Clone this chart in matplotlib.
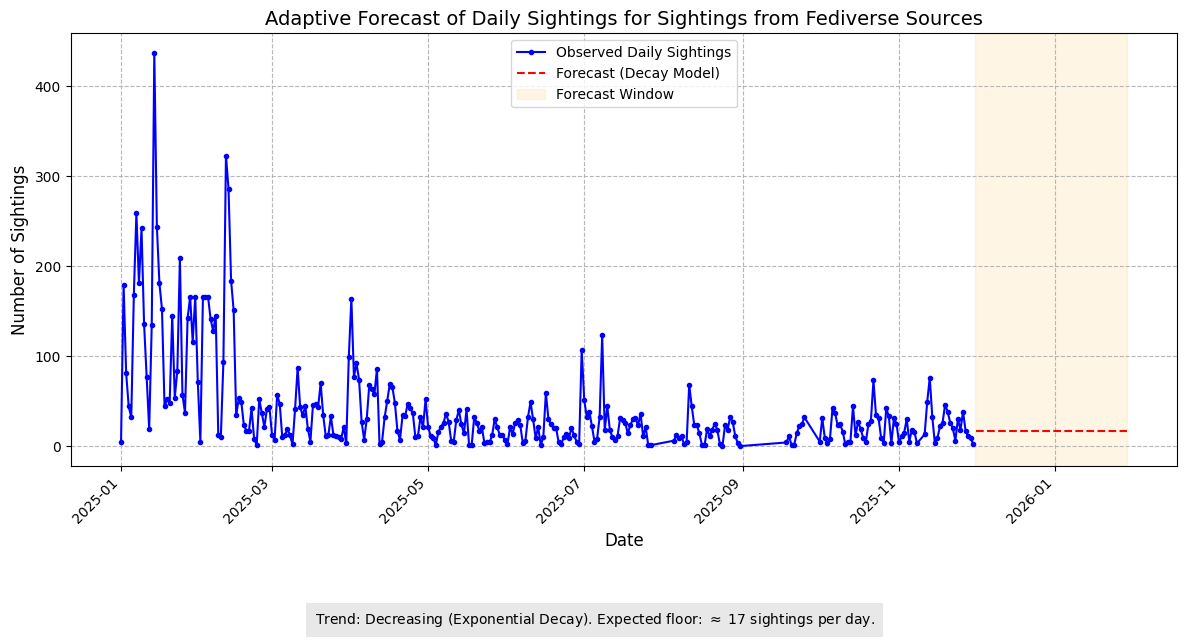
import matplotlib
matplotlib.use("Agg")
import matplotlib.pyplot as plt
import matplotlib.dates as mdates
import numpy as np
import pandas as pd

# Observed daily sightings, grouped in contiguous daily runs (start date, values)
seg1_start = "2025-01-01"
seg1_values = [4, 179, 81, 44, 32, 168, 259, 181, 242, 136, 77, 19, 135, 437, 244, 181, 152, 44, 52, 48,
               145, 54, 84, 209, 57, 37, 142, 166, 116, 166, 71, 5, 166, 166, 166, 141, 128, 145, 12, 10,
               94, 323, 286, 184, 151, 34, 53,
               49, 23, 17, 17, 42, 8, 1, 52, 37, 21, 41, 43, 12, 7, 57, 47, 10, 12, 19, 12,
               2, 41, 87, 43, 34, 45, 19, 5, 46, 47, 43, 70, 34, 11, 12, 33, 12, 11, 10, 8,
               21, 3, 99, 164, 77, 92, 74,
               27, 7, 30, 68, 63, 58, 86, 2, 5, 32, 50, 69, 66, 48, 17, 7, 34, 33, 47, 42,
               37, 10, 11, 32, 21, 52, 21, 11, 9, 1, 16, 21, 26, 36, 27, 6, 5, 29, 40, 24,
               14, 41, 1, 1, 32, 26,
               17, 21, 3, 4, 4, 12, 30, 21, 12, 12, 7, 2, 21, 13, 26, 29, 23, 3, 6, 32,
               49, 30, 9, 21, 1, 10, 59, 30, 24, 20, 20, 4, 2, 10, 13, 9, 20, 12, 5, 2,
               107, 51, 32, 38, 22, 5, 8, 32, 123, 18, 44, 18, 10, 7, 11, 31, 29, 26, 14, 23,
               30, 31, 23, 36, 11, 21, 1, 1]
seg2_start = "2025-08-05"
seg2_values = [6, 12, 9, 11, 2, 4, 68, 44, 23, 23, 14, 1, 1, 19, 11, 18, 25, 18, 2, 0,
               23, 18, 32, 27, 11, 3, 0]
seg3_start = "2025-09-18"
seg3_values = [4, 11, 1, 1, 14, 22, 24, 32]
seg4_start = "2025-10-01"
seg4_values = [5, 31, 9, 3, 8, 42, 37, 23, 24, 16, 2, 5, 5, 44, 12, 27, 19, 9, 4, 24,
               28, 73, 34, 31, 9, 3, 42, 33, 3, 31, 25, 4, 11, 15, 30, 5, 18, 16, 3]
seg5_start = "2025-11-11"
seg5_values = [13, 49, 76, 32, 3, 9, 22, 26, 46, 38, 26, 20, 6, 30, 18, 38, 17, 11, 9, 2]

forecast_floor = 17
forecast_days = 60

segments = [(seg1_start, seg1_values), (seg2_start, seg2_values), (seg3_start, seg3_values),
            (seg4_start, seg4_values), (seg5_start, seg5_values)]
dates = []
values = []
for start, vals in segments:
    dates.extend(pd.date_range(start, periods=len(vals), freq="D"))
    values.extend(vals)
dates = pd.DatetimeIndex(dates)

last_date = dates[-1]
fc_dates = pd.date_range(last_date + pd.Timedelta(days=1), periods=forecast_days, freq="D")
fc_values = [forecast_floor] * len(fc_dates)

fig = plt.figure(figsize=(11.89, 6.4), dpi=100)
ax = fig.add_axes([0.0595, 0.2723, 0.9305, 0.6756])

ax.plot(dates, values, color="blue", marker="o", markersize=3, linewidth=1.5,
        label="Observed Daily Sightings")
ax.plot(fc_dates, fc_values, color="red", linestyle="--", linewidth=1.5,
        label="Forecast (Decay Model)")
ax.axvspan(fc_dates[0] - pd.Timedelta(hours=12), fc_dates[-1], color="orange", alpha=0.1,
           label="Forecast Window")

ax.set_title("Adaptive Forecast of Daily Sightings for Sightings from Fediverse Sources", fontsize=14)
ax.set_xlabel("Date", fontsize=12)
ax.set_ylabel("Number of Sightings", fontsize=12)
ax.grid(True, linestyle="--", alpha=0.9)
ax.legend(loc="upper center")
ax.xaxis.set_major_formatter(mdates.DateFormatter("%Y-%m"))
plt.setp(ax.get_xticklabels(), rotation=45, ha="right")

fig.text(0.5, 0.031, "Trend: Decreasing (Exponential Decay). Expected floor: $\\approx$ 17 sightings per day.",
         ha="center", va="center", fontsize=10,
         bbox=dict(facecolor="lightgray", alpha=0.5, edgecolor="none", pad=6))

fig.savefig("out.png", dpi=100)
